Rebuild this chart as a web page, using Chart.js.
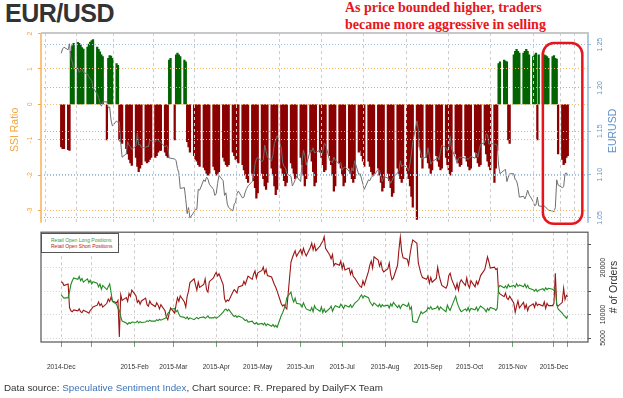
<!DOCTYPE html>
<html>
<head>
<meta charset="utf-8">
<script src="https://cdn.jsdelivr.net/npm/chart.js@4.4.1/dist/chart.umd.min.js"></script>
<style>
  html, body { margin: 0; padding: 0; background: #fff; }
  body { width: 623px; height: 398px; position: relative; overflow: hidden; font-family: "Liberation Sans", Arial, sans-serif; }
  #title { position: absolute; left: 5px; top: 1px; font-size: 25px; line-height: 25px; font-weight: bold; color: #333; letter-spacing: -0.5px; }
  #note { position: absolute; left: 345px; top: -1px; font-family: "Liberation Serif", "Times New Roman", serif; font-weight: bold; font-size: 14px; line-height: 17px; color: #e8141c; white-space: nowrap; }
  #topChart { position: absolute; left: 0; top: 0; }
  #bottomChart { position: absolute; left: 0; top: 226px; }
  #legend { position: absolute; left: 41px; top: 233px; width: 78px; height: 20px; box-sizing: border-box; border: 1px solid #555; background: #fff; font-size: 5px; line-height: 6px; padding: 3px 0 0 9px; white-space: nowrap; }
  #footer { position: absolute; left: 4px; top: 382px; font-size: 9.8px; line-height: 12px; color: #333; white-space: nowrap; }
</style>
</head>
<body>
<div id="title">EUR/USD</div>
<div id="note">As price bounded higher, traders<br>became more aggressive in selling</div>
<canvas id="topChart" width="623" height="232"></canvas>
<canvas id="bottomChart" width="623" height="150"></canvas>
<div id="legend"><div style="color:#3c9a3c">Retail Open Long Positions</div><div style="color:#b22222">Retail Open Short Positions</div></div>
<div id="footer">Data source: <span style="color:#3d74b8">Speculative Sentiment Index</span>, Chart source: R. Prepared by DailyFX Team</div>
<script>
// x positions are days counted from 1 Jan 2015; data are weekday rows, Mon..Fri
const FIRST_MONDAY = -24;   // Mon 8 Dec 2014
const WEEKS = 53;
const X_MIN = -36.6, X_MAX = 358.6;

const TICK_DAYS   = [-22, 0, 31, 59, 90, 120, 151, 181, 212, 243, 273, 304, 334, 344];
const TICK_LABELS = ['2014-Dec', '', '2015-Feb', '2015-Mar', '2015-Apr', '2015-May', '2015-Jun',
                     '2015-Jul', '2015-Aug', '2015-Sep', '2015-Oct', '2015-Nov', '2015-Dec', ''];

const SSI_TICKS = [-3, -2, -1, 0, 1, 2];
const PRICE_TICKS = [1.05, 1.10, 1.15, 1.20, 1.25];
const ORDER_TICKS = [5000, 10000, 15000, 20000, 25000];
const ORDER_LABELS = ['5000', '10000', '', '20000', ''];

// SSI ratio (bars)
const SSI = [
  null, null, -1.2, -1.25, -1.25,   -1.28, -1.3, 1.5, 1.65, 1.72,
  1.75, 1.72, 1.68, 1.6, 1.56,      1.62, 1.7, 1.76, 1.8, 1.83,
  1.62, 1.55, 1.48, 1.4, 1.35,      -1.0, 1.3, 1.38, 1.36, 1.3,
  1.15, 1.1, -1.0, -1.05, -1.1,     -1.25, -1.4, -1.55, -1.65, -1.72,
  -1.5, -1.75, -1.9, -1.8, -1.7,    -1.6, -1.65, -1.62, -1.55, -1.5,
  -1.5, -1.45, -1.35, -1.3, -1.3,   -1.35, -1.45, -1.5, 1.25, 1.3,
  -1.0, 1.4, 1.45, 1.4, 1.35,       1.25, 1.2, -1.05, -1.2, -1.35,
  -1.45, -1.55, -1.6, -1.7, -1.75,  -1.78, -1.85, -1.95, -2.0, -1.95,
  -1.75, -1.85, -2.0, -1.95, -1.9,  -1.5, -1.6, -1.7, -1.75, -1.7,
  -1.35, -1.45, -1.55, -1.6, -1.65, -1.7, -1.85, -2.0, -2.1, -2.2,
  -1.95, -2.15, -2.35, -2.65, -2.5, -1.95, -2.1, -2.3, -2.4, -2.2,
  -1.8, -2.0, -2.3, -2.55, -2.4,    -1.8, -1.95, -2.15, -2.3, -2.2,
  -1.65, -1.8, -1.95, -2.1, -2.05,  -1.5, -1.7, -2.0, -2.3, -2.1,
  -1.35, -1.6, -1.9, -2.3, -2.2,    -1.35, -1.5, -1.7, -1.9, -1.85,
  -1.45, -1.7, -2.0, -2.45, -2.3,   -1.65, -1.8, -2.0, -2.3, -2.2,
  -1.8, -1.95, -2.1, -2.2, -2.1,    -1.35, -1.3, -1.45, -1.6, -1.75,
  -1.6, -1.75, -1.9, -2.0, -1.95,   -1.8, -2.0, -2.2, -2.45, -2.35,
  -1.95, -2.15, -2.35, -2.6, -2.5,  -1.8, -1.95, -2.1, -2.2, -2.1,
  -1.95, -2.1, -2.3, -2.6, -2.9,    -3.25, -0.95, -1.2, -1.5, -1.8,
  -1.5, -1.65, -1.8, -1.95, -1.85,  -1.45, -1.6, -1.75, -1.85, -1.8,
  -1.5, -1.7, -1.85, -2.0, -1.9,    -1.4, -1.55, -1.65, -1.75, -1.7,
  -1.45, -1.6, -1.75, -1.85, -1.8,  -1.35, -1.5, -1.65, -1.75, -1.7,
  -1.15, -1.4, -1.6, -1.75, -1.85,  -2.2, -1.8, -1.3, 1.15, 1.2,
  1.25, 1.22, 1.2, -1.0, -1.1,      1.4, 1.5, 1.55, 1.5, 1.45,
  1.45, 1.5, 1.55, 1.5, 1.4,        1.35, 1.4, 1.45, -1.0, 1.4,
  1.45, 1.4, 1.38, 1.35, 1.3,       1.35, 1.38, 1.3, 1.28, -1.4,
  -1.55, -1.7, -1.65, -1.5, -1.45
];

// EUR/USD close (grey line)
const PRICE = [
  null, null, 1.240, 1.245, 1.247,   1.244, 1.251, 1.234, 1.230, 1.222,
  1.223, 1.218, 1.220, 1.222, 1.218, 1.216, 1.213, 1.210, 1.209, 1.200,
  1.193, 1.189, 1.183, 1.179, 1.184, 1.184, 1.177, 1.178, 1.163, 1.156,
  1.162, 1.160, 1.161, 1.137, 1.120, 1.124, 1.138, 1.134, 1.132, 1.129,
  1.133, 1.148, 1.134, 1.135, 1.131, 1.131, 1.133, 1.132, 1.140, 1.139,
  1.138, 1.141, 1.140, 1.138, 1.137, 1.132, 1.134, 1.131, 1.119, 1.119,
  1.118, 1.116, 1.107, 1.102, 1.084, 1.085, 1.071, 1.055, 1.062, 1.050,
  1.057, 1.060, 1.060, 1.083, 1.082, 1.094, 1.092, 1.097, 1.095, 1.089,
  1.083, 1.076, 1.078, 1.090, 1.099, 1.093, 1.076, 1.079, 1.066, 1.062,
  1.058, 1.066, 1.068, 1.078, 1.081, 1.073, 1.074, 1.080, 1.084, 1.087,
  1.092, 1.098, 1.112, 1.118, 1.120, 1.115, 1.117, 1.134, 1.127, 1.120,
  1.116, 1.123, 1.136, 1.140, 1.145, 1.131, 1.114, 1.109, 1.108, 1.101,
  1.098, 1.087, 1.090, 1.094, 1.098, 1.092, 1.115, 1.128, 1.122, 1.111,
  1.128, 1.127, 1.131, 1.125, 1.126, 1.128, 1.122, 1.127, 1.136, 1.135,
  1.116, 1.115, 1.114, 1.120, 1.117, 1.112, 1.114, 1.105, 1.108, 1.109,
  1.104, 1.100, 1.108, 1.104, 1.116, 1.100, 1.101, 1.095, 1.089, 1.083,
  1.094, 1.093, 1.097, 1.098, 1.099, 1.106, 1.105, 1.098, 1.092, 1.098,
  1.096, 1.094, 1.090, 1.093, 1.097, 1.102, 1.104, 1.116, 1.109, 1.111,
  1.108, 1.104, 1.113, 1.124, 1.138, 1.162, 1.152, 1.130, 1.124, 1.118,
  1.121, 1.131, 1.122, 1.112, 1.115, 1.118, 1.121, 1.117, 1.127, 1.134,
  1.131, 1.127, 1.131, 1.144, 1.130, 1.119, 1.113, 1.119, 1.120, 1.120,
  1.119, 1.118, 1.118, 1.119, 1.121, 1.119, 1.125, 1.120, 1.128, 1.135,
  1.137, 1.147, 1.146, 1.135, 1.136, 1.135, 1.135, 1.134, 1.111, 1.101,
  1.105, 1.106, 1.092, 1.097, 1.101, 1.101, 1.094, 1.093, 1.086, 1.074,
  1.075, 1.072, 1.076, 1.082, 1.077, 1.069, 1.064, 1.065, 1.074, 1.064,
  1.063, 1.064, 1.062, 1.061, 1.059, 1.058, 1.057, 1.062, 1.094, 1.088,
  1.085, 1.086, 1.101, 1.102, 1.099
];

// retail open long positions (# of orders)
const LONGS = [
  null, null, 14200, 13800, 13500,    13600, 14900, 16400, 17200, 17800,
  17500, 18100, 17200, 17700, 16900,  17600, 16800, 17300, 16500, 17000,
  16700, 15900, 16500, 15400, 16200,  15300, 15900, 16500, 14800, 12800,
  12200, 11300, 10900, 9600, 8600,    8200, 7900, 8300, 8100, 8400,
  8300, 8600, 8200, 8500, 8300,       8400, 8700, 8500, 8800, 8600,
  8600, 8900, 8700, 9000, 8800,       9200, 9400, 10200, 10600, 11100,
  11300, 10600, 10900, 10100, 9600,   9400, 9100, 9500, 9000, 9300,
  8900, 9200, 9400, 9100, 9300,       9500, 9200, 9400, 9700, 9300,
  9300, 9500, 9200, 9400, 9600,       10500, 11000, 11200, 10800, 11100,
  9900, 9600, 9800, 9400, 9700,       9300, 9000, 8700, 8900, 8400,
  8600, 8200, 8000, 8300, 7900,       8100, 7800, 8200, 7600, 8000,
  7500, 7900, 7400, 7700, 7300,       9800, 10400, 11200, 12000, 13600,
  14800, 13400, 12700, 13500, 12400,  12200, 11600, 12500, 11800, 11200,
  10800, 11500, 10600, 11900, 11300,  10700, 11600, 10400, 11200, 10500,
  11300, 11800, 10700, 11400, 11900,  11500, 12200, 11800, 11300, 12000,
  11600, 12100, 11500, 11900, 12400,  13200, 13800, 14200, 13500, 14000,
  13600, 12800, 12300, 11900, 12500,  11700, 12200, 11600, 12100, 11800,
  12000, 11400, 12300, 11800, 12600,  11500, 12000, 11300, 11900, 12200,
  11700, 12400, 11100, 11600, 8500,   8300, 9100, 9800, 10600, 10200,
  10800, 11500, 11200, 11700, 11100,  11400, 11800, 11000, 11600, 11300,
  10600, 12000, 11300, 10900, 11700,  13900, 12600, 11800, 11100, 10600,
  11200, 10800, 11500, 10700, 11300,  11000, 11600, 10800, 11400, 11800,
  11100, 10600, 11300, 10900, 11500,  11200, 10900, 11300, 15800, 16200,
  15700, 16100, 15600, 16400, 15900,  16200, 15800, 16600, 16000, 16300,
  15900, 16500, 15700, 16200, 15600,  15300, 15000, 15400, 14900, 15200,
  15500, 15100, 15700, 15300, 15600,  15400, 15100, 15600, 12100, 11200,
  10300, 9900, 9600, 9200, 9800
];

// retail open short positions (# of orders)
const SHORTS = [
  null, null, 17000, 16800, 16200,    16500, 11500, 10800, 10600, 11000,
  10800, 11200, 10600, 10400, 10900,  10500, 10300, 10900, 11200, 11600,
  12000, 12700, 11900, 12300, 11600,  12400, 13300, 12800, 13700, 12900,
  12500, 13000, 5200, 14200, 13000,   13600, 12800, 14500, 13900, 15200,
  14000, 12600, 13000, 12200, 12900,  13500, 12100, 11800, 12900, 12300,
  11700, 12500, 12000, 11200, 12100,  10800, 9400, 8900, 10200, 11400,
  10300, 12100, 13600, 12800, 14000,  12700, 11600, 13900, 15000, 16800,
  17600, 16400, 15200, 16900, 15800,  16400, 17600, 15300, 14800, 17000,
  17800, 18500, 19000, 18200, 18700,  16400, 13400, 12700, 13100, 12900,
  14800, 15300, 15000, 14600, 15900,  16200, 17100, 16400, 17300, 18200,
  17500, 18600, 19300, 17800, 18900,  19400, 20100, 18800, 19600, 18300,
  18000, 17200, 16400, 15800, 15000,  12300, 11800, 12100, 11500, 11200,
  21200, 22100, 22900, 23600, 22400,  23900, 22800, 24100, 23200, 22500,
  24300, 25200, 23800, 24900, 23600,  24600, 25200, 25600, 26600, 24100,
  22700, 21900, 22800, 20400, 20900,  20500, 21400, 19800, 20800, 19500,
  19900, 18600, 19400, 18100, 17800,  16400, 16000, 15800, 17200, 16300,
  19200, 20600, 21400, 19900, 22300,  21600, 20300, 21200, 19600, 19100,
  19800, 21000, 18600, 17400, 17800,  20500, 23800, 26500, 23400, 22100,
  21800, 20600, 22800, 24600, 25900,  25200, 21000, 19800, 18600, 17900,
  17500, 18200, 16700, 17900, 16900,  17700, 20100, 18400, 17200, 16200,
  15600, 16300, 18300, 18800, 17600,  15400, 16600, 15200, 16800, 17400,
  16200, 17800, 16300, 15700, 17200,  15900, 17100, 16400, 17300, 18300,
  19600, 20900, 22300, 21200, 19900,  20100, 19600, 19800, 14800, 14400,
  13800, 14600, 13500, 13200, 13900,  12400, 10500, 11800, 12900, 11400,
  12600, 11300, 12100, 10800, 11700,  12300, 11500, 12600, 11900, 12200,
  11800, 12700, 11300, 12400, 11900,  11900, 12400, 18800, 12100, 11800,
  12600, 15600, 13200, 14100, 13800
];

// highlighted window (days, SSI units)
const HILITE_DAYS = [326, 354.5];
const HILITE_SSI = [1.73, -3.37];

const DAYS = [];
for (let w = 0; w < WEEKS; w++) {
  for (let d = 0; d < 5; d++) DAYS.push(FIRST_MONDAY + 7 * w + d);
}
const points = vals => vals.map((v, i) => ({ x: DAYS[i], y: v }));

const ORANGE = '#f5a640';
const BLUE = '#5f92c8';

Chart.defaults.font.family = '"Liberation Sans", Arial, sans-serif';
Chart.defaults.color = '#333';

function vText(ctx, text, x, y, color, size) {
  ctx.save();
  ctx.translate(x, y);
  ctx.rotate(-Math.PI / 2);
  ctx.fillStyle = color;
  ctx.font = size + 'px "Liberation Sans", Arial, sans-serif';
  ctx.textAlign = 'center';
  ctx.textBaseline = 'middle';
  ctx.fillText(text, 0, 0);
  ctx.restore();
}

function vLine(ctx, x, y0, y1, color, width) {
  ctx.save();
  ctx.strokeStyle = color;
  ctx.lineWidth = width;
  ctx.beginPath();
  ctx.moveTo(x, y0);
  ctx.lineTo(x, y1);
  ctx.stroke();
  ctx.restore();
}

const xScale = (showLabels) => ({
  type: 'linear',
  min: X_MIN,
  max: X_MAX,
  offset: false,
  afterBuildTicks: s => { s.ticks = TICK_DAYS.map(v => ({ value: v })); },
  ticks: {
    display: showLabels,
    autoSkip: false,
    maxRotation: 0,
    padding: 16,
    font: { size: 6.6 },
    color: '#333',
    callback: (v, i) => TICK_LABELS[i]
  },
  grid: {
    color: '#cdcdcd',
    lineWidth: 1,
    drawTicks: showLabels,
    tickLength: 5,
    tickColor: '#6aa86a',
    tickBorderDash: [],
    z: showLabels ? -1 : 1
  },
  border: { display: false, dash: [3, 3] },
  afterFit: s => { if (!showLabels) s.height = 0; }
});

const topDecor = {
  id: 'topDecor',
  afterDraw(chart) {
    const { ctx, chartArea: a, scales } = chart;
    // axis lines and the grey top frame
    vLine(ctx, a.left, a.top, a.bottom, '#f9b463', 1.6);
    vLine(ctx, a.right, a.top, a.bottom, '#98bce0', 1.6);
    ctx.save();
    ctx.strokeStyle = '#c8c8c8';
    ctx.lineWidth = 2;
    ctx.beginPath();
    ctx.moveTo(a.left, a.top);
    ctx.lineTo(a.right + 1, a.top);
    ctx.stroke();

    const x0 = scales.x.getPixelForValue(HILITE_DAYS[0]);
    const x1 = scales.x.getPixelForValue(HILITE_DAYS[1]);
    const y0 = scales.ySSI.getPixelForValue(HILITE_SSI[0]);
    const y1 = scales.ySSI.getPixelForValue(HILITE_SSI[1]);
    ctx.strokeStyle = '#e8141c';
    ctx.lineWidth = 2.5;
    ctx.beginPath();
    ctx.roundRect(x0, y0, x1 - x0, y1 - y0, 11);
    ctx.stroke();
    ctx.restore();

    vText(ctx, 'SSI Ratio', 15, (a.top + a.bottom) / 2 + 2, ORANGE, 10.5);
    vText(ctx, 'EURUSD', 613, (a.top + a.bottom) / 2 + 3, BLUE, 10.5);
  }
};

new Chart(document.getElementById('topChart'), {
  type: 'bar',
  data: {
    datasets: [
      {
        type: 'line',
        label: 'EURUSD',
        data: points(PRICE),
        yAxisID: 'yPrice',
        borderColor: '#6f6f6f',
        borderWidth: 1,
        pointRadius: 0,
        order: 0
      },
      {
        type: 'bar',
        label: 'SSI Ratio',
        data: points(SSI),
        yAxisID: 'ySSI',
        backgroundColor: c => (c.raw && c.raw.y >= 0) ? '#006400' : '#8b0000',
        barThickness: 1.6,
        order: 1
      }
    ]
  },
  options: {
    responsive: false,
    animation: false,
    devicePixelRatio: 1,
    layout: { padding: { top: 33, bottom: 3, left: 0, right: 0 } },
    plugins: { legend: { display: false }, tooltip: { enabled: false } },
    scales: {
      x: xScale(false),
      ySSI: {
        position: 'left',
        min: -3.342,
        max: 2.014,
        afterBuildTicks: s => { s.ticks = SSI_TICKS.map(v => ({ value: v })); },
        ticks: { color: ORANGE, font: { size: 7 }, minRotation: 90, maxRotation: 90, crossAlign: 'center', padding: 5 },
        grid: { color: '#f8b866', tickColor: ORANGE, tickLength: 3, tickBorderDash: [], z: 1 },
        border: { display: false, dash: [1, 2] },
        afterFit: s => { s.width = 41; }
      },
      yPrice: {
        position: 'right',
        min: 1.0444,
        max: 1.2634,
        afterBuildTicks: s => { s.ticks = PRICE_TICKS.map(v => ({ value: v })); },
        ticks: { color: BLUE, font: { size: 7 }, minRotation: 90, maxRotation: 90, crossAlign: 'center', padding: 2,
                 callback: v => v.toFixed(2) },
        grid: { color: '#98bce0', tickColor: '#98bce0', tickLength: 3, tickBorderDash: [], z: 1 },
        border: { display: false, dash: [1, 2] },
        afterFit: s => { s.width = 35; }
      }
    }
  },
  plugins: [topDecor]
});

const bottomDecor = {
  id: 'bottomDecor',
  afterDraw(chart) {
    const { ctx, chartArea: a } = chart;
    ctx.save();
    ctx.strokeStyle = '#555';
    ctx.lineWidth = 1.2;
    ctx.strokeRect(a.left, a.top, a.right - a.left, a.bottom - a.top);
    ctx.restore();
    vText(ctx, '# of Orders', 614, (a.top + a.bottom) / 2, '#333', 10.5);
  }
};

const bottomX = xScale(true);
bottomX.afterFit = s => { s.height = 34; };

new Chart(document.getElementById('bottomChart'), {
  type: 'line',
  data: {
    datasets: [
      { label: 'Retail Open Long Positions', data: points(LONGS), borderColor: '#238b23', borderWidth: 1.1, pointRadius: 0 },
      { label: 'Retail Open Short Positions', data: points(SHORTS), borderColor: '#9c1515', borderWidth: 1.1, pointRadius: 0 }
    ]
  },
  options: {
    responsive: false,
    animation: false,
    devicePixelRatio: 1,
    layout: { padding: { top: 6, left: 41, right: 0, bottom: 0 } },
    plugins: { legend: { display: false }, tooltip: { enabled: false } },
    scales: {
      x: bottomX,
      y: {
        position: 'right',
        min: 4150,
        max: 27550,
        afterBuildTicks: s => { s.ticks = ORDER_TICKS.map(v => ({ value: v })); },
        ticks: { color: '#333', font: { size: 7 }, minRotation: 90, maxRotation: 90, crossAlign: 'center', padding: 2,
                 callback: (v, i) => ORDER_LABELS[i] },
        grid: { color: '#d6d6d6', tickColor: '#555', tickLength: 3, tickBorderDash: [] },
        border: { display: false, dash: [1, 2] },
        afterFit: s => { s.width = 35; }
      }
    }
  },
  plugins: [bottomDecor]
});
</script>
</body>
</html>
